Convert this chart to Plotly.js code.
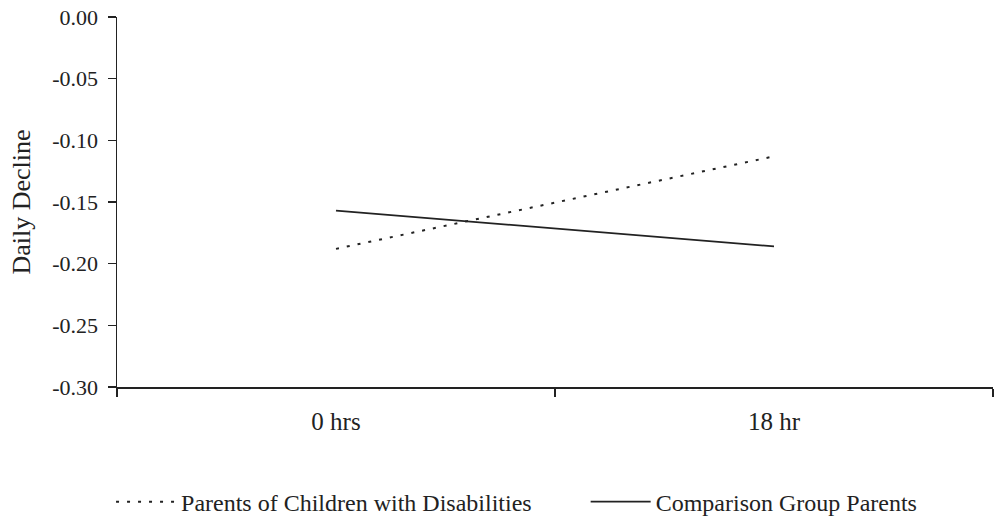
<!DOCTYPE html>
<html>
<head>
<meta charset="utf-8">
<script src="https://cdn.plot.ly/plotly-3.0.1.min.js"></script>
<style>html,body{margin:0;padding:0;background:#fff;}#chart{width:996px;height:519px;}</style>
</head>
<body>
<div id="chart"></div>
<script>
var categories = ["0 hrs", "18 hr"];
var disabilitiesValues = [-0.188, -0.113];
var comparisonValues = [-0.157, -0.186];
var seriesNames = ["Parents of Children with Disabilities", "Comparison Group Parents"];
var yTickVals = [0, -0.05, -0.10, -0.15, -0.20, -0.25, -0.30];
var yTickText = ["0.00", "-0.05", "-0.10", "-0.15", "-0.20", "-0.25", "-0.30"];

var fontFam = "Liberation Serif, Times New Roman, serif";
var traces = [
  {x: categories, y: disabilitiesValues, name: seriesNames[0], type: "scatter", mode: "lines",
   legend: "legend", line: {color: "#222", width: 2, dash: "3px,8px"}},
  {x: categories, y: comparisonValues, name: seriesNames[1], type: "scatter", mode: "lines",
   legend: "legend2", line: {color: "#222", width: 1.6}}
];
var legendFont = {family: fontFam, size: 24, color: "#222"};
var layout = {
  width: 996, height: 519,
  margin: {l: 117, r: 3, t: 17, b: 132, autoexpand: false},
  paper_bgcolor: "#fff", plot_bgcolor: "#fff",
  font: {family: fontFam, size: 22, color: "#222"},
  showlegend: true,
  legend: {orientation: "h", x: -0.0068, xanchor: "left", y: -0.311, yanchor: "middle",
           font: legendFont, itemwidth: 60, bgcolor: "rgba(0,0,0,0)"},
  legend2: {orientation: "h", x: 0.535, xanchor: "left", y: -0.311, yanchor: "middle",
           font: legendFont, itemwidth: 60, bgcolor: "rgba(0,0,0,0)"},
  xaxis: {type: "category", range: [-0.5, 1.5], tickson: "boundaries",
          showline: true, linecolor: "#222", linewidth: 1.5, ticks: "outside", ticklen: 8,
          tickcolor: "#222", tickwidth: 1.5, showgrid: false, zeroline: false,
          ticklabelstandoff: 11, tickfont: {family: fontFam, size: 25, color: "#222"}},
  yaxis: {range: [-0.30, 0], tickvals: yTickVals, ticktext: yTickText,
          showline: true, linecolor: "#222", linewidth: 1.5, ticks: "outside", ticklen: 8,
          tickcolor: "#222", tickwidth: 1.5, showgrid: false, zeroline: false,
          ticklabelstandoff: 5,
          tickfont: {family: fontFam, size: 22, color: "#222"},
          title: {text: "Daily Decline", font: {family: fontFam, size: 26, color: "#222"}, standoff: 14}}
};
Plotly.newPlot("chart", traces, layout, {displayModeBar: false, staticPlot: true});
</script>
</body>
</html>
